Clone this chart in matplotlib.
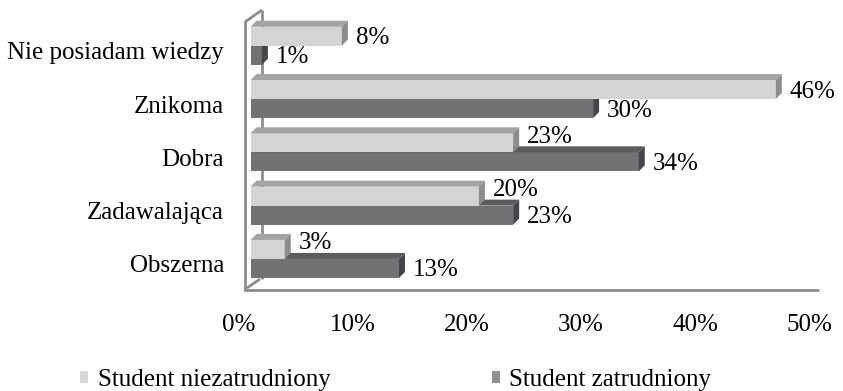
import matplotlib
matplotlib.use("Agg")
import matplotlib.pyplot as plt
from matplotlib.patches import Polygon, Patch
from matplotlib.transforms import ScaledTranslation

plt.rcParams['font.family'] = ['Liberation Serif', 'DejaVu Serif']
plt.rcParams['font.size'] = 18

categories = ["Nie posiadam wiedzy", "Znikoma", "Dobra", "Zadawalająca", "Obszerna"]
niezatrudniony = [8, 46, 23, 20, 3]
zatrudniony = [1, 30, 34, 23, 13]
series_names = ["Student niezatrudniony", "Student zatrudniony"]
xticks = [0, 10, 20, 30, 40, 50]

W, H = 843, 391
fig = plt.figure(figsize=(W / 100, H / 100), dpi=100)

# plot area in pixels (left, top, right, bottom)
left, top, right, bottom = 250.5, 10, 821.5, 290
ax = fig.add_axes([left / W, 1 - bottom / H, (right - left) / W, (bottom - top) / H])
ax.set_xlim(0, 50)
ylo, yhi = -0.67, 4.583
ax.set_ylim(yhi, ylo)
ax.patch.set_visible(False)
for s in ax.spines.values():
    s.set_visible(False)

px_x = (right - left) / 50.0
px_y = (bottom - top) / (yhi - ylo)
h = 19 / px_y            # bar thickness
dx = 6 / px_x            # depth of the 3d faces
dy = 6 / px_y

light = dict(front="#d3d4d4", top="#a2a4a5", side="#8b8d8e")
dark = dict(front="#707274", top="#5a5c5e", side="#434548")
frame_col = "#8a8c8e"


def fp(x, y):
    return x / W, 1 - y / H


def frame_line(p0, p1, z):
    (x0, y0), (x1, y1) = fp(*p0), fp(*p1)
    ax.plot([x0, x1], [y0, y1], color=frame_col, lw=2.0, transform=fig.transFigure,
            clip_on=False, zorder=z, solid_capstyle='butt')


# back wall edge sits behind the bars
frame_line((262, 10), (262, 279), 0.5)
frame_line((247, 288), (260, 279), 0.5)
frame_line((245, 22), (262, 10), 5)
frame_line((245, 21), (245, 291), 5)
frame_line((244, 290), (819, 290), 5)


def px_shift(x, y):
    return ScaledTranslation(x / 100, y / 100, fig.dpi_scale_trans)


def bar3d(y_top, value, cols, z, lift=0):
    y_bot = y_top + h
    ax.barh(y_top + h / 2, value, height=h, color=cols["front"], zorder=z)
    ax.add_patch(Polygon([(0, y_top), (value, y_top), (value + dx, y_top - dy), (dx, y_top - dy)],
                         closed=True, facecolor=cols["top"], edgecolor='none', zorder=z))
    ax.add_patch(Polygon([(value, y_top), (value + dx, y_top - dy), (value + dx, y_bot - dy), (value, y_bot)],
                         closed=True, facecolor=cols["side"], edgecolor='none', zorder=z))
    ax.text(value, y_top + h / 2, f"{value}%", ha='left', va='center', zorder=6,
            transform=ax.transData + px_shift(14, -2 + lift))


for i, (a, b) in enumerate(zip(niezatrudniony, zatrudniony)):
    bar3d(i, b, dark, 2 + i * 0.01)
    # label sits higher when the bar below is longer
    bar3d(i - h, a, light, 3 + i * 0.01, lift=8 if b > a else 0)

ax.set_xticks(xticks)
ax.set_xticklabels([f"{t}%" for t in xticks])
ax.set_yticks(range(len(categories)))
ax.set_yticklabels(categories)
ax.tick_params(axis='both', length=0)
ax.tick_params(axis='x', pad=17.5)
ax.tick_params(axis='y', pad=19)
for lab in ax.get_xticklabels():
    lab.set_transform(lab.get_transform() + px_shift(-12, 0))
for lab in ax.get_yticklabels():
    lab.set_transform(lab.get_transform() + px_shift(0, -5))

handles = [Patch(facecolor="#d6d7d7", edgecolor='none'),
           Patch(facecolor="#8e9091", edgecolor='none')]
fig.legend(handles, series_names, loc='center left', bbox_to_anchor=(80 / W, 1 - 380 / H),
           ncol=2, frameon=False, borderpad=0, borderaxespad=0,
           handlelength=0.33, handleheight=0.33, handletextpad=0.37, columnspacing=6.45)

fig.savefig("out.png", dpi=100)
